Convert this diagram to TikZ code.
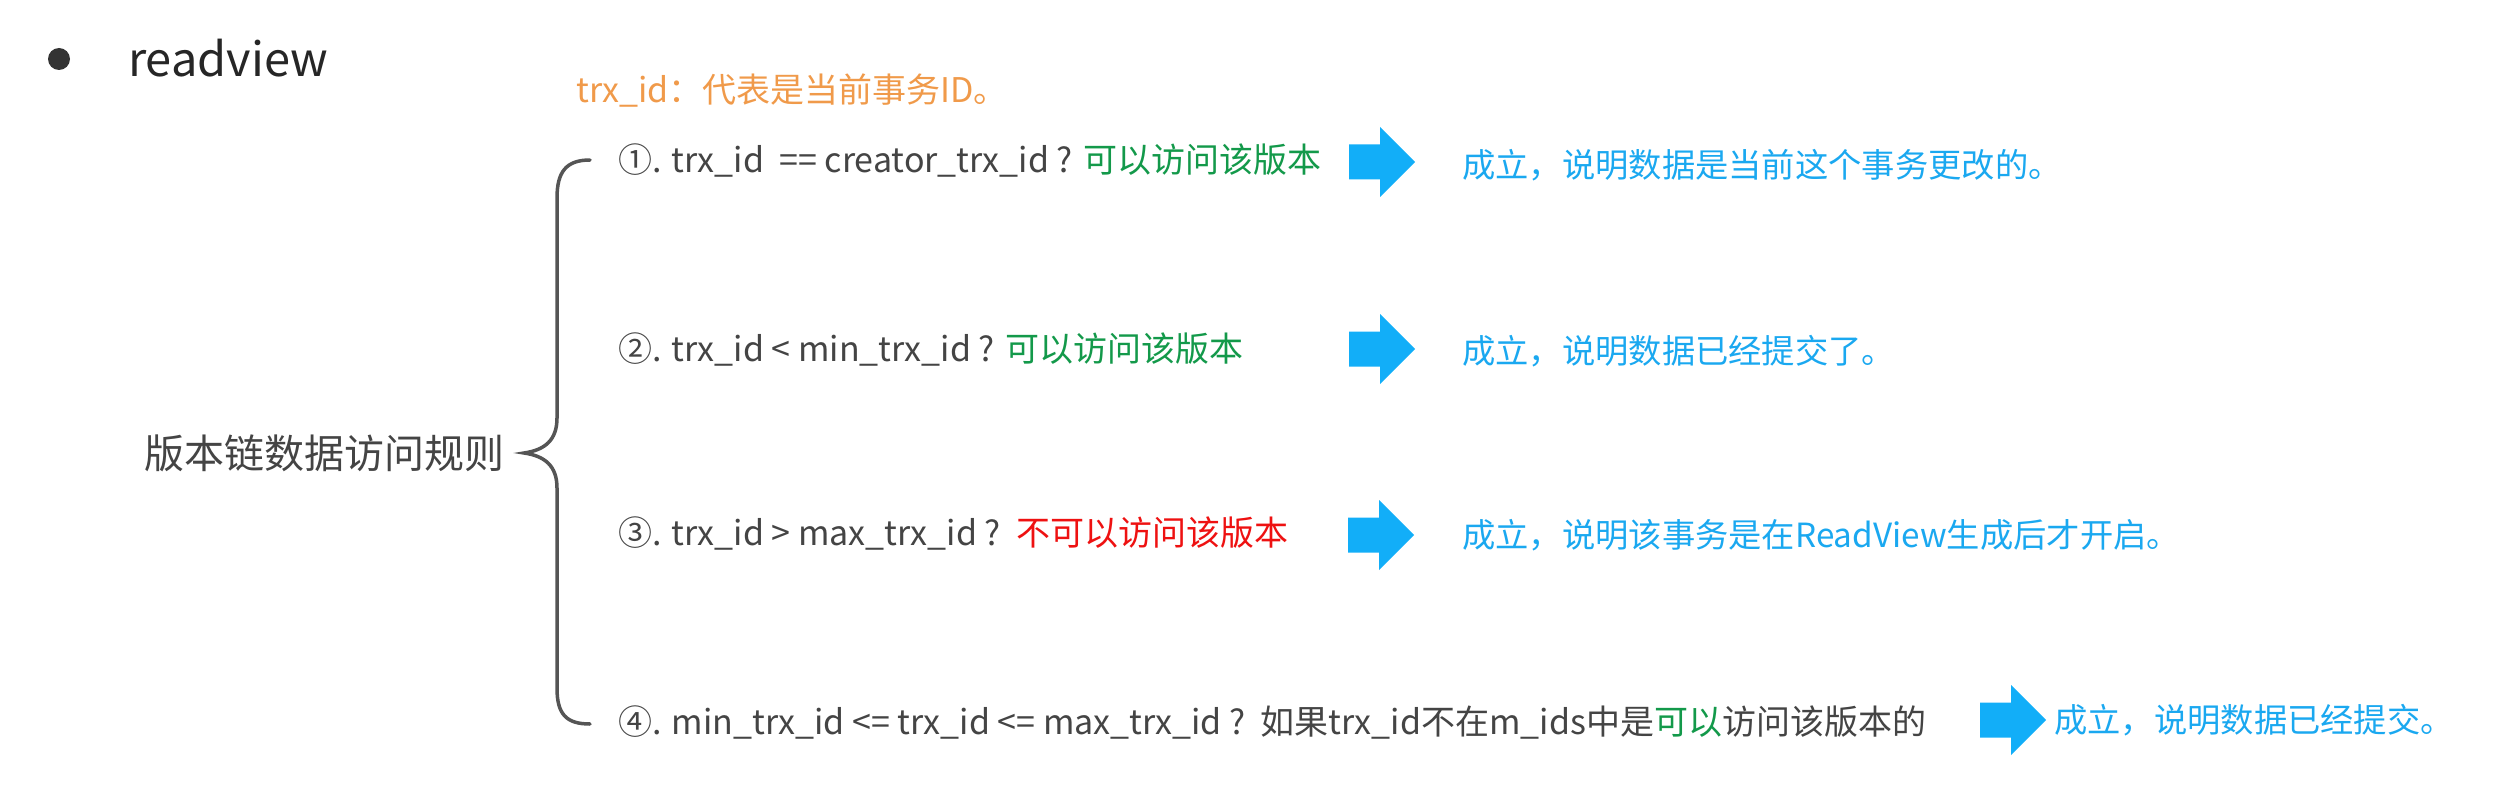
\documentclass[tikz,border=0pt]{standalone}
\usepackage{fontspec}
\setmainfont{Noto Sans CJK SC}
\definecolor{txtgray}{HTML}{444444}
\definecolor{okgreen}{HTML}{13994A}
\definecolor{nored}{HTML}{EE1111}
\definecolor{skyblue}{HTML}{1AA8F0}
\definecolor{arrowblue}{HTML}{12AEF8}
\definecolor{orangetxt}{HTML}{F09A4A}
\definecolor{bracegray}{HTML}{555555}
\tikzset{
  txt/.style={anchor=west, inner sep=0pt, font=\fontsize{34}{40}\selectfont, text=txtgray},
  res/.style={anchor=west, inner sep=0pt, font=\fontsize{33.3}{40}\selectfont, text=skyblue},
  blockarrow/.style={fill=arrowblue, draw=none},
}
\newcommand{\myblockarrow}[1]{%
  \fill[blockarrow] ([shift={(0,-17.5)}]#1) -- ([shift={(31,-17.5)}]#1) -- ([shift={(31,-35)}]#1)
    -- ([shift={(66,0)}]#1) -- ([shift={(31,35)}]#1) -- ([shift={(31,17.5)}]#1)
    -- ([shift={(0,17.5)}]#1) -- cycle;}
\begin{document}
\begin{tikzpicture}[x=1pt,y=-1pt]
\useasboundingbox (0,0) rectangle (2510,805);
% bullet + title
\fill[black!80] (59,59) circle (11);
\node[anchor=west, inner sep=0pt, font=\fontsize{47}{54}\selectfont, text=black!85] (title) at (128,58) {readview};
\node[anchor=west, inner sep=0pt, font=\fontsize{34}{40}\selectfont, text=orangetxt] (note) at (576,91) {trx\_id：代表是当前事务ID。};
% left label
\node[anchor=west, inner sep=0pt, font=\fontsize{40}{46}\selectfont, text=txtgray] (rules) at (144,453) {版本链数据访问规则};
% brace
\draw[bracegray, line width=3.5pt, line cap=round]
  (590,160) .. controls (566,160) and (557,172) .. (557,198)
  -- (557,418) .. controls (557,440) and (545,450) .. (524,453)
  .. controls (545,456) and (557,466) .. (557,488)
  -- (557,688) .. controls (557,714) and (566,724) .. (590,724);
% rule lines
\node[txt] (r1) at (618,160) {①. trx\_id\ \ == creator\_trx\_id ? \textcolor{okgreen}{可以访问该版本}};
\node[txt] (r2) at (618,349) {②. trx\_id < min\_trx\_id ? \textcolor{okgreen}{可以访问该版本}};
\node[txt] (r3) at (618,533) {③. trx\_id > max\_trx\_id ?\ \ \textcolor{nored}{不可以访问该版本}};
\node[txt] (r4) at (618,722) {④. min\_trx\_id <= trx\_id <= max\_trx\_id ?\ \ 如果trx\_id不在m\_ids中是\textcolor{okgreen}{可以}访问该版本的};
% arrows
\coordinate (a1) at (1349,162);
\coordinate (a2) at (1349,349);
\coordinate (a3) at (1348,535);
\coordinate (a4) at (1980,720);
\myblockarrow{a1}
\myblockarrow{a2}
\myblockarrow{a3}
\myblockarrow{a4}
% results
\node[res] (c1) at (1462,165) {成立，说明数据是当前这个事务更改的。};
\node[res] (c2) at (1462,351) {成立，说明数据已经提交了。};
\node[res] (c3) at (1462,535) {成立，说明该事务是在ReadView生成后才开启。};
\node[res] (c4) at (2054,720) {成立，说明数据已经提交。};
\end{tikzpicture}
\end{document}
